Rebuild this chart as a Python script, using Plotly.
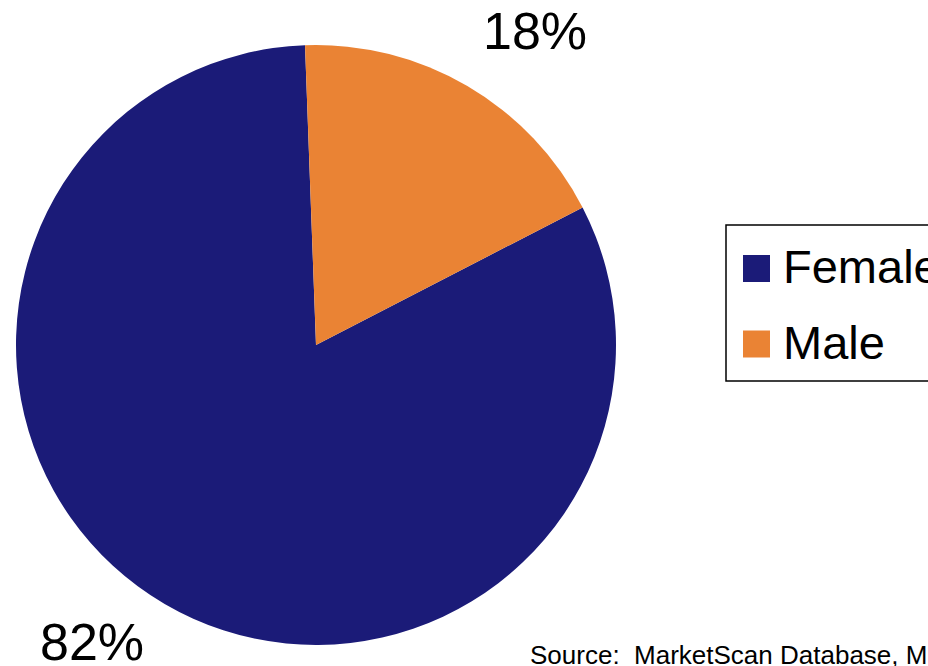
import plotly.graph_objects as go

labels = ["Female", "Male"]
values = [82, 18]
colors = ["#1B1B78", "#EA8334"]
source_text = "Source:  MarketScan Database, Medstat"

W, H = 928, 666
FONT = "Arial, Liberation Sans, sans-serif"

fig = go.Figure()
fig.add_trace(go.Pie(
    labels=labels,
    values=values,
    marker=dict(colors=colors, line=dict(width=0)),
    sort=False,
    direction="clockwise",
    rotation=62.7,
    textinfo="none",
    hoverinfo="label+percent",
    showlegend=False,
    domain=dict(x=[16 / W, 616 / W], y=[(H - 645) / H, (H - 45) / H]),
))

total = sum(values)
# percentage labels
label_pos = {"Male": (535, 31), "Female": (92, 642)}
annotations = []
for lab, v in zip(labels, values):
    px, py = label_pos[lab]
    annotations.append(dict(
        x=px / W, y=1 - py / H, xref="paper", yref="paper",
        text=f"{round(100 * v / total)}%", showarrow=False,
        xanchor="center", yanchor="middle",
        font=dict(family=FONT, size=52, color="black"),
    ))

# manual legend
shapes = [dict(type="rect", xref="paper", yref="paper",
               x0=726 / W, x1=940 / W, y0=1 - 381 / H, y1=1 - 225 / H,
               line=dict(color="black", width=1.5), fillcolor="rgba(0,0,0,0)")]
row_y = [268.5, 344]
for lab, col, ry in zip(labels, colors, row_y):
    shapes.append(dict(type="rect", xref="paper", yref="paper",
                       x0=743 / W, x1=770 / W,
                       y0=1 - (ry + 13.5) / H, y1=1 - (ry - 13.5) / H,
                       line=dict(width=0), fillcolor=col))
    annotations.append(dict(
        x=781 / W, y=1 - (ry - 2) / H, xref="paper", yref="paper",
        text=lab, showarrow=False, xanchor="left", yanchor="middle",
        font=dict(family=FONT, size=47, color="black"),
    ))

annotations.append(dict(
    x=528 / W, y=1 - 655 / H, xref="paper", yref="paper",
    text=source_text, showarrow=False, xanchor="left", yanchor="middle",
    font=dict(family=FONT, size=26, color="black"),
))

fig.update_layout(
    width=W, height=H,
    margin=dict(l=0, r=0, t=0, b=0),
    paper_bgcolor="white", plot_bgcolor="white",
    shapes=shapes, annotations=annotations,
    showlegend=False,
)

fig.write_html("out.html", config={"displayModeBar": False})
